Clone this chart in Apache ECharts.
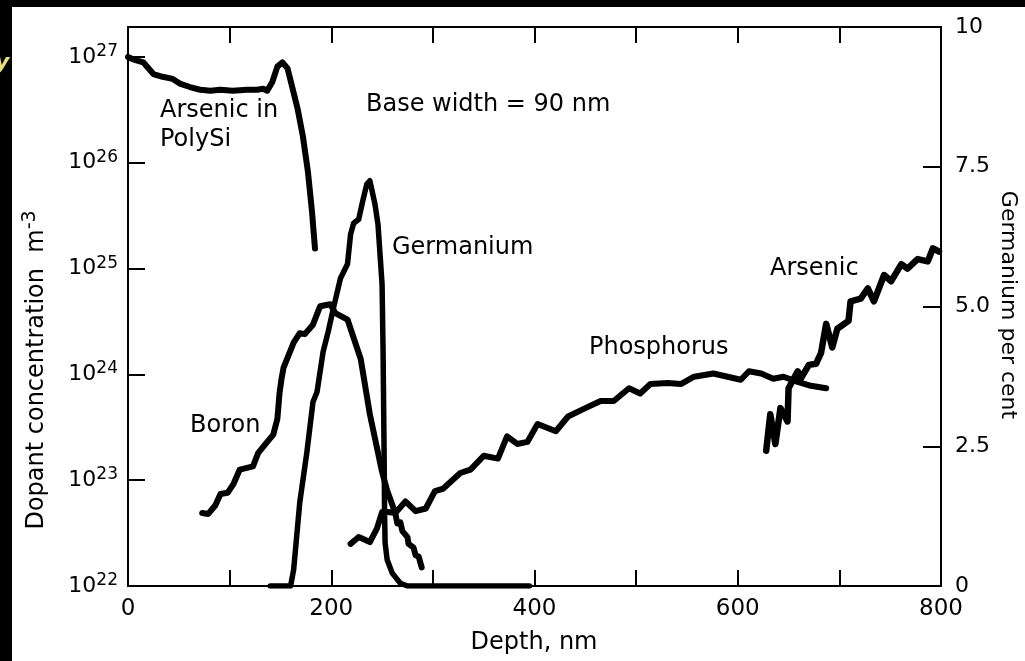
<!DOCTYPE html>
<html>
<head>
<meta charset="utf-8">
<title>Dopant profile</title>
<script src="https://cdn.jsdelivr.net/npm/echarts@6/dist/echarts.min.js"></script>
<style>
    html, body { margin: 0; padding: 0; background: #000; }
    #chart { width: 1025px; height: 661px; }
</style>
</head>
<body>
<div id="chart"></div>
<script>
// depth axis (nm) and germanium axis (per cent)
var depthTicks = [0, 200, 400, 600, 800];
var geTicks = [0, 2.5, 5, 7.5, 10];
var geTickLabels = ['0', '2.5', '5.0', '7.5', '10'];

// Arsenic in PolySi, m^-3
var asPolyDepth = [0, 5, 15, 25, 34, 44, 51, 61, 71, 81, 91, 103, 117, 127, 133, 137, 142, 147, 152, 157, 162, 167, 172, 177, 181, 184];
var asPolyConc = [1.0e27, 9.5e26, 8.9e26, 6.9e26, 6.5e26, 6.2e26, 5.6e26, 5.2e26, 4.9e26, 4.8e26, 4.9e26, 4.8e26, 4.9e26, 4.9e26,
    5.0e26, 4.8e26, 5.8e26, 8.1e26, 8.9e26, 7.8e26, 5.0e26, 3.2e26, 1.8e26, 8.3e25, 3.5e25, 1.55e25];

// Boron, m^-3
var boronDepth = [73, 79, 86, 91, 98, 104, 110, 116, 123, 128, 137, 143, 147, 149, 151, 153, 163, 169, 174, 182, 189, 199, 204, 216,
    229, 238, 250, 255, 263, 265, 268, 270, 275, 276, 281, 283, 286, 289];
var boronConc = [4.9e22, 4.8e22, 5.8e22, 7.4e22, 7.6e22, 9.3e22, 1.26e23, 1.3e23, 1.35e23, 1.8e23, 2.3e23, 2.7e23, 3.8e23, 6.5e23,
    9.0e23, 1.15e24, 2.0e24, 2.45e24, 2.4e24, 2.95e24, 4.4e24, 4.6e24, 3.8e24, 3.3e24, 1.4e24, 4.2e23, 1.2e23, 8.0e22, 4.9e22,
    3.9e22, 4.0e22, 3.3e22, 2.9e22, 2.5e22, 2.3e22, 1.95e22, 1.9e22, 1.5e22];

// Phosphorus, m^-3
var phosDepth = [219, 227, 238, 245, 250, 256, 263, 273, 283, 293, 302, 310, 327, 337, 350, 364, 373, 383, 393, 403, 421, 433, 448,
    465, 478, 493, 504, 514, 531, 544, 557, 576, 590, 603, 611, 623, 635, 645, 659, 672, 687];
var phosConc = [2.5e22, 2.9e22, 2.6e22, 3.5e22, 5.0e22, 5.0e22, 4.9e22, 6.3e22, 5.1e22, 5.4e22, 7.9e22, 8.3e22, 1.17e23, 1.26e23,
    1.7e23, 1.6e23, 2.6e23, 2.2e23, 2.3e23, 3.4e23, 2.9e23, 4.0e23, 4.7e23, 5.6e23, 5.6e23, 7.4e23, 6.6e23, 8.1e23, 8.3e23, 8.1e23,
    9.5e23, 1.02e24, 9.5e23, 8.9e23, 1.07e24, 1.02e24, 9.1e23, 9.5e23, 8.5e23, 7.8e23, 7.4e23];

// Arsenic (emitter side), m^-3
var arsDepth = [628, 632, 637, 642, 649, 650, 659, 662, 670, 677, 682, 687, 693, 698, 709, 711, 721, 728, 734, 744, 751, 761, 767,
    777, 787, 792, 798];
var arsConc = [1.9e23, 4.2e23, 2.2e23, 4.8e23, 3.6e23, 7.4e23, 1.07e24, 9.1e23, 1.23e24, 1.26e24, 1.6e24, 3.0e24, 1.8e24, 2.7e24,
    3.2e24, 4.9e24, 5.2e24, 6.5e24, 4.9e24, 8.7e24, 7.6e24, 1.1e25, 1.0e25, 1.23e25, 1.17e25, 1.55e25, 1.45e25];

// Germanium, per cent
var geDepth = [140, 160, 163, 169, 176, 182, 186, 192, 197, 202, 209, 216, 219, 222, 227, 231, 235, 238, 243, 246, 250, 251, 252,
    252.5, 253, 255, 260, 268, 275, 395];
var gePct = [0, 0, 0.29, 1.49, 2.39, 3.29, 3.47, 4.19, 4.55, 4.96, 5.50, 5.76, 6.29, 6.49, 6.56, 6.89, 7.19, 7.25, 6.83, 6.47, 5.40,
    4.19, 2.39, 1.26, 0.77, 0.47, 0.23, 0.05, 0, 0];

function pairs(xs, ys) {
    var out = [];
    for (var i = 0; i < xs.length; i++) {
        out.push([xs[i], ys[i]]);
    }
    return out;
}

var FONT = 'DejaVu Sans';
var chart = echarts.init(document.getElementById('chart'));

function curve(name, data, yIndex, w) {
    return {
        name: name,
        type: 'line',
        yAxisIndex: yIndex,
        data: data,
        showSymbol: false,
        lineStyle: { color: '#000', width: w, cap: 'round', join: 'round' },
        z: 3
    };
}

function label(text, x, y, size) {
    return {
        type: 'text',
        left: x,
        top: y - size / 2 - 1,
        style: { text: text, fill: '#000', font: size + 'px "' + FONT + '"' }
    };
}

function axisLine() {
    return { show: true, onZero: false, lineStyle: { color: '#000', width: 2 } };
}

function axisTick(len) {
    return { show: true, inside: true, length: len, lineStyle: { color: '#000', width: 2 } };
}

var option = {
    backgroundColor: '#000',
    animation: false,
    grid: { left: 128, right: 84, top: 27, bottom: 75 },
    xAxis: [
        {
            type: 'value',
            position: 'bottom',
            min: 0,
            max: 800,
            interval: 100,
            splitLine: { show: false },
            axisLine: axisLine(),
            axisTick: axisTick(16),
            axisLabel: {
                color: '#000',
                fontFamily: FONT,
                fontSize: 23,
                margin: 12,
                formatter: function (v) {
                    return depthTicks.indexOf(v) >= 0 ? String(v) : '';
                }
            }
        },
        {
            type: 'value',
            position: 'top',
            min: 0,
            max: 800,
            interval: 100,
            splitLine: { show: false },
            axisLine: axisLine(),
            axisTick: axisTick(16),
            axisLabel: { show: false }
        }
    ],
    yAxis: [
        {
            type: 'log',
            logBase: 10,
            min: 1e22,
            max: 1.92e27,
            position: 'left',
            splitLine: { show: false },
            axisLine: axisLine(),
            axisTick: axisTick(17),
            axisLabel: {
                margin: 10,
                formatter: function (v) {
                    var e = Math.log10(v);
                    var r = Math.round(e);
                    if (Math.abs(e - r) > 0.01) {
                        return '';
                    }
                    return '{b|10}{s|' + r + '}';
                },
                rich: {
                    b: { fontFamily: FONT, fontSize: 22, color: '#000' },
                    s: { fontFamily: FONT, fontSize: 17, color: '#000', padding: [0, 0, 11, 0] }
                }
            }
        },
        {
            type: 'value',
            min: 0,
            max: 10,
            interval: 2.5,
            position: 'right',
            splitLine: { show: false },
            axisLine: axisLine(),
            axisTick: axisTick(18),
            axisLabel: {
                color: '#000',
                fontFamily: FONT,
                fontSize: 22,
                margin: 14,
                formatter: function (v) {
                    var i = geTicks.indexOf(v);
                    return i >= 0 ? geTickLabels[i] : '';
                }
            }
        }
    ],
    series: [
        curve('Arsenic in PolySi', pairs(asPolyDepth, asPolyConc), 0, 6),
        curve('Boron', pairs(boronDepth, boronConc), 0, 6),
        curve('Phosphorus', pairs(phosDepth, phosConc), 0, 6),
        curve('Arsenic', pairs(arsDepth, arsConc), 0, 6.5),
        curve('Germanium', pairs(geDepth, gePct), 1, 5.5)
    ],
    graphic: [
        {
            type: 'rect',
            z: -10,
            shape: { x: 12, y: 7, width: 1013, height: 654 },
            style: { fill: '#fff' }
        },
        {
            type: 'text',
            left: -5,
            top: 52,
            style: { text: 'y', fill: '#e8df7a', font: 'italic bold 22px "' + FONT + '"' }
        },
        label('Arsenic in', 160, 112, 24),
        label('PolySi', 160, 141, 24),
        label('Base width = 90 nm', 366, 106, 24),
        label('Germanium', 392, 249, 24),
        label('Arsenic', 770, 270, 24),
        label('Phosphorus', 589, 349, 24),
        label('Boron', 190, 427, 24),
        {
            type: 'text',
            x: 534,
            y: 643,
            style: {
                text: 'Depth, nm', fill: '#000', font: '24px "' + FONT + '"',
                align: 'center', verticalAlign: 'middle'
            }
        },
        {
            type: 'text',
            x: 37,
            y: 370,
            rotation: Math.PI / 2,
            style: {
                text: 'Dopant concentration  m{sup|-3}',
                fill: '#000',
                font: '24px "' + FONT + '"',
                align: 'center',
                verticalAlign: 'middle',
                rich: {
                    sup: { fontFamily: FONT, fontSize: 19, padding: [0, 0, 14, 0] }
                }
            }
        },
        {
            type: 'text',
            x: 1008,
            y: 305,
            rotation: -Math.PI / 2,
            style: {
                text: 'Germanium per cent',
                fill: '#000',
                font: '22px "' + FONT + '"',
                align: 'center',
                verticalAlign: 'middle'
            }
        }
    ]
};

chart.setOption(option);
</script>
</body>
</html>
